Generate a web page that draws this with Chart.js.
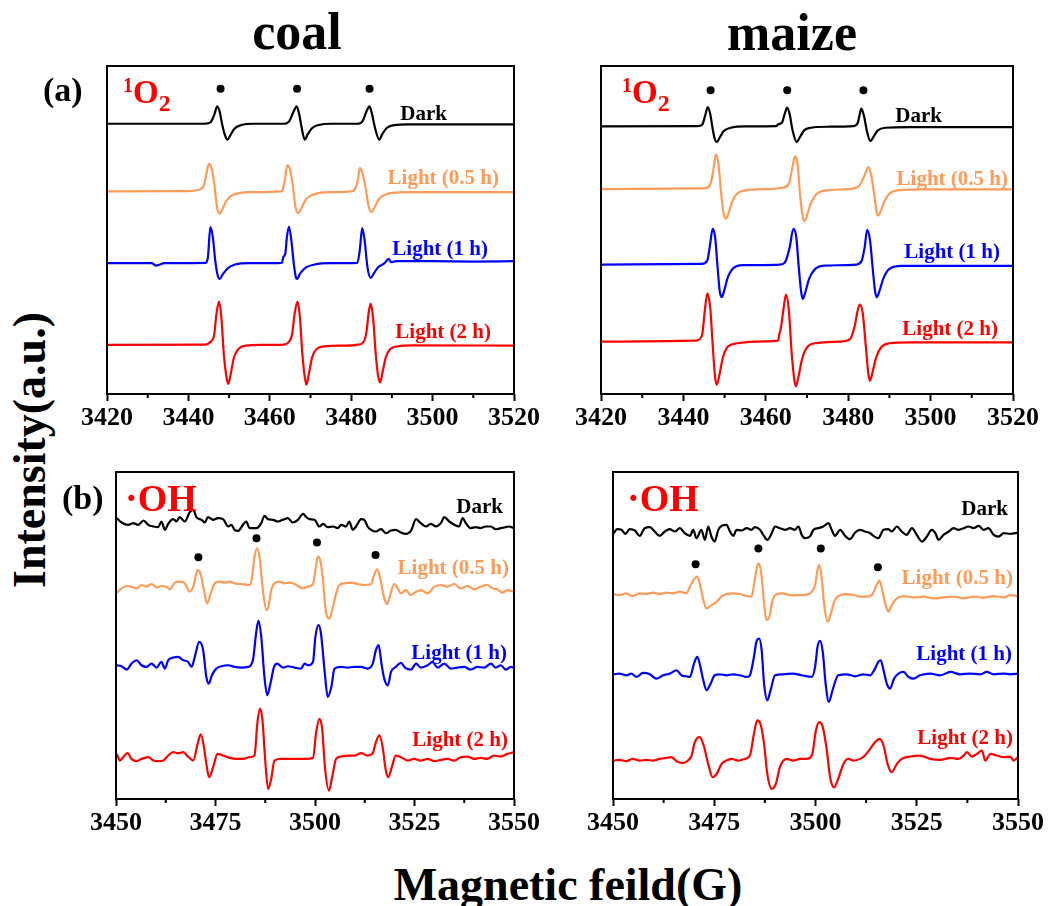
<!DOCTYPE html>
<html>
<head>
<meta charset="utf-8">
<script src="https://cdn.jsdelivr.net/npm/chart.js@4.4.1/dist/chart.umd.min.js"></script>
<style>
  html, body { margin: 0; padding: 0; background: #fff; }
  #page { position: relative; width: 1048px; height: 906px; overflow: hidden;
          font-family: 'Liberation Serif', 'Times New Roman', serif; font-weight: bold; }
  #page canvas { position: absolute; }
  .t { position: absolute; line-height: 1; white-space: nowrap; }
</style>
</head>
<body>
<div id="page"></div>
<script>
// ---- axis ticks ----
const o2Ticks = [3420, 3440, 3460, 3480, 3500, 3520];
const o2Minor = [3430, 3450, 3470, 3490, 3510];
const ohTicks = [3450, 3475, 3500, 3525, 3550];
const ohMinor = [3462.5, 3487.5, 3512.5, 3537.5];

// ---- (a) 1O2, coal : [field G, intensity a.u.] ----
const coalO2Dark = [[3420,810],[3444,810],[3445.4,814],[3446.3,835],[3447.1,862],[3447.7,845],[3448.3,808],[3449,775],[3449.6,762],[3450.3,775],[3451.3,795],[3453,806],[3456,810],
  [3463.5,810],[3464.8,818],[3465.8,845],[3466.6,862],[3467.2,840],[3467.8,800],[3468.6,762],[3469.3,778],[3470.5,798],[3472,806],[3475,810],
  [3481.5,810],[3482.8,818],[3483.8,848],[3484.5,862],[3485.1,840],[3485.8,800],[3486.9,762],[3487.6,778],[3488.8,798],[3490.5,806],[3494,808],[3520,808]];
const coalO2Half = [[3420,607],[3440,608],[3442.5,612],[3443.8,625],[3444.5,665],[3445.0,690],[3445.6,680],[3446.3,635],[3447.0,562],[3447.7,540],[3448.4,555],[3449.3,578],[3450.5,594],[3452.5,602],[3455,605],
  [3463,608],[3463.2,614],[3463.7,640],[3464.3,685],[3464.9,675],[3465.6,630],[3466.3,560],[3467.0,542],[3467.7,556],[3468.6,578],[3469.8,593],[3472,602],[3475,605],
  [3480,607],[3481.0,615],[3481.6,640],[3482.1,677],[3482.7,665],[3483.5,620],[3484.3,562],[3485.0,545],[3485.7,558],[3486.6,580],[3488,596],[3490,603],[3495,605],[3520,605]];
const coalO2One = [[3420,392],[3431,392],[3432,385],[3433,388],[3434,392],[3444.3,393],[3444.8,410],[3445.4,500],[3446,470],[3446.6,400],[3447.2,355],[3447.7,345],[3448.5,360],[3449.8,378],[3451.5,388],[3455,392],
  [3463,393],[3463.3,410],[3463.8,420],[3464.2,470],[3464.7,502],[3465.3,460],[3465.9,390],[3466.4,350],[3466.7,345],[3467.5,362],[3469,380],[3471,388],[3475,392],
  [3481.5,393],[3482.1,430],[3482.7,497],[3483.3,460],[3484,380],[3484.8,348],[3485.6,362],[3486.6,380],[3488.2,392],[3489.2,405],[3489.8,395],[3491,398],[3500,398],[3510,397],[3520,398]];
const coalO2Two = [[3420,147],[3444,148],[3445.6,158],[3446.3,175],[3446.9,240],[3447.5,277],[3448.1,230],[3448.7,120],[3449.3,55],[3449.8,30],[3450.4,60],[3451.2,110],[3452.3,135],[3454,145],[3458,147],
  [3463.5,148],[3464.8,158],[3465.5,180],[3466.1,240],[3466.8,277],[3467.4,230],[3468,120],[3468.6,50],[3469.0,28],[3469.6,60],[3470.4,110],[3471.5,135],[3473.5,143],[3478,145],
  [3481.8,148],[3483.2,160],[3483.8,190],[3484.3,245],[3484.8,270],[3485.4,225],[3486,125],[3486.6,55],[3487.1,35],[3487.7,65],[3488.5,110],[3489.6,135],[3491.5,143],[3495,146],[3520,145]];
const coalO2Dots = [[3447.9,915],[3466.7,915],[3484.5,915]];

// ---- (a) 1O2, maize ----
const maizeO2Dark = [[3420,802],[3443.5,803],[3444.6,808],[3445.3,835],[3445.9,860],[3446.5,840],[3447.1,795],[3447.6,765],[3448.1,755],[3448.8,768],[3449.8,788],[3451.5,798],[3455,802],
  [3462.5,803],[3463,808],[3464,815],[3464.6,840],[3465.2,858],[3465.8,838],[3466.5,790],[3467.5,755],[3468.2,768],[3469.3,790],[3471,798],[3475,801],
  [3481.3,803],[3482.3,812],[3482.8,838],[3483.2,855],[3483.8,835],[3484.6,785],[3485.4,758],[3486.1,770],[3487.2,790],[3489,798],[3495,800],[3520,800]];
const maizeO2Half = [[3420,614],[3445,616],[3446.4,625],[3447.2,665],[3447.9,718],[3448.5,690],[3449.1,610],[3449.7,545],[3450.3,525],[3450.9,540],[3451.8,575],[3453,600],[3455,610],
  [3462,615],[3464,618],[3465.6,630],[3466.4,675],[3467.1,712],[3467.7,690],[3468.3,600],[3468.9,535],[3469.4,518],[3470,535],[3470.9,570],[3472.2,598],[3474.5,610],
  [3480,614],[3482.5,622],[3483.8,650],[3484.9,680],[3485.6,655],[3486.4,590],[3486.9,545],[3487.3,535],[3487.9,548],[3488.8,578],[3490,600],[3492,610],[3500,613],[3520,613]];
const maizeO2One = [[3420,388],[3444.5,390],[3445.8,400],[3446.5,450],[3447.1,495],[3447.7,470],[3448.3,380],[3448.8,310],[3449.3,290],[3449.9,310],[3450.8,350],[3452.2,378],[3454.5,386],
  [3463.5,388],[3464.8,398],[3465.8,440],[3466.7,495],[3467.4,470],[3468.0,380],[3468.6,305],[3469.0,285],[3469.6,305],[3470.5,345],[3472,375],[3474.5,385],
  [3482,388],[3483.3,400],[3484,440],[3484.6,492],[3485.3,460],[3486,370],[3486.5,310],[3486.9,290],[3487.5,305],[3488.5,345],[3490,375],[3493,384],[3520,384]];
const maizeO2Two = [[3420,157],[3443,160],[3444.5,175],[3445.2,250],[3445.8,302],[3446.5,260],[3447.2,130],[3447.7,50],[3448.1,28],[3448.7,55],[3449.6,110],[3450.8,142],[3453,152],
  [3460,158],[3463,160],[3463.3,180],[3463.7,200],[3464.3,255],[3464.9,298],[3465.6,250],[3466.3,120],[3466.9,45],[3467.3,23],[3467.9,50],[3468.8,105],[3470,140],[3472,152],
  [3478,157],[3480.5,165],[3481.6,205],[3482.3,250],[3482.8,268],[3483.5,245],[3484.3,140],[3484.9,60],[3485.3,40],[3485.9,65],[3486.8,110],[3488,140],[3490,152],[3495,155],[3520,155]];
const maizeO2Dots = [[3446.6,910],[3465.2,910],[3483.7,910]];

// ---- (b) ·OH, coal ----
const coalOHDark = [[3450.2,840],[3451.4,827],[3453.1,820],[3454.3,825],[3455.6,820],[3456.9,833],[3458.1,820],[3459.4,815],[3460.6,813],[3461.4,830],[3462.3,805],[3463.1,823],[3464.4,837],[3465.2,830],[3466.0,843],[3467.3,830],[3468.5,857],[3469.4,865],[3470.2,843],[3471.5,835],[3472.3,827],[3473.1,843],[3474.4,835],[3475.6,840],[3476.9,837],[3478.2,815],[3479.0,820],[3479.8,805],[3480.7,802],[3481.9,820],[3482.7,830],[3483.6,810],[3485.3,810],[3486.5,825],[3487.3,847],[3488.2,837],[3489.4,835],[3490.7,830],[3491.9,835],[3493.2,840],[3494.4,827],[3495.7,835],[3497.0,853],[3497.8,843],[3498.6,837],[3499.9,835],[3501.1,815],[3502.0,823],[3503.2,813],[3504.5,815],[3505.7,810],[3506.6,820],[3507.8,815],[3508.6,830],[3509.5,805],[3510.3,815],[3511.6,837],[3512.4,835],[3513.2,815],[3514.1,805],[3515.3,800],[3516.6,807],[3517.8,795],[3519.1,803],[3520.3,805],[3521.6,797],[3522.8,793],[3524.1,802],[3525.4,837],[3526.6,825],[3527.9,815],[3529.1,823],[3530.4,815],[3531.6,825],[3532.5,843],[3533.7,830],[3535.0,820],[3536.2,815],[3537.1,840],[3537.9,825],[3539.1,810],[3540.4,813],[3541.6,810],[3542.9,815],[3544.2,815],[3545.4,807],[3546.7,810],[3547.9,813],[3548.7,815],[3550.0,810]];
const coalOHHalf = [[3450.2,617],[3451.4,630],[3452.7,637],[3453.9,635],[3455.2,630],[3456.4,640],[3457.7,635],[3458.9,643],[3460.2,633],[3461.4,637],[3462.7,635],[3463.5,627],[3464.8,647],[3466.0,650],[3467.3,645],[3468.5,620],[3469.4,635],[3470.5,685],[3471.3,670],[3472.1,625],[3472.9,585],[3473.8,615],[3474.8,645],[3476.1,650],[3477.3,647],[3478.6,650],[3479.8,645],[3481.5,643],[3483.6,640],[3484.2,665],[3484.8,725],[3485.5,750],[3486.1,720],[3486.9,625],[3487.8,565],[3488.3,575],[3489.0,625],[3489.8,645],[3491.1,650],[3492.3,645],[3493.6,647],[3494.9,643],[3497.0,630],[3498.2,635],[3499.5,643],[3500.1,685],[3500.7,725],[3501.4,710],[3502.0,655],[3502.8,555],[3503.6,540],[3504.5,575],[3505.3,615],[3506.1,640],[3507.4,645],[3509.1,647],[3510.7,643],[3512.4,640],[3514.1,643],[3514.7,665],[3515.6,687],[3516.4,660],[3517.3,605],[3518.1,583],[3518.9,610],[3519.9,643],[3520.8,630],[3521.6,615],[3522.8,625],[3524.1,610],[3525.4,620],[3526.6,625],[3528.3,615],[3530.0,635],[3531.6,640],[3533.3,635],[3535.0,643],[3536.6,630],[3538.3,637],[3540.0,627],[3541.6,635],[3543.3,640],[3544.6,630],[3545.8,627],[3547.1,617],[3548.3,625],[3550.0,620]];
const coalOHOne = [[3450.2,400],[3451.4,397],[3452.7,387],[3453.9,405],[3455.2,415],[3456.4,400],[3457.7,395],[3458.9,405],[3460.2,393],[3461.4,410],[3462.3,390],[3463.1,415],[3464.4,423],[3465.6,425],[3466.9,415],[3468.1,410],[3469.0,395],[3469.8,425],[3470.9,470],[3471.9,445],[3472.7,365],[3473.3,345],[3474.1,370],[3475.2,390],[3476.5,397],[3478.2,400],[3479.8,395],[3481.5,393],[3483.2,395],[3484.4,415],[3485.3,505],[3485.8,533],[3486.5,485],[3487.3,365],[3488.0,310],[3488.8,345],[3489.7,395],[3490.5,405],[3491.9,393],[3493.2,397],[3494.9,393],[3496.5,390],[3497.4,405],[3498.2,400],[3499.5,410],[3500.1,485],[3500.9,520],[3501.5,495],[3502.4,385],[3503.2,305],[3504.1,335],[3504.9,390],[3506.6,395],[3508.2,393],[3509.9,395],[3511.6,395],[3513.2,390],[3514.5,405],[3515.3,445],[3516.0,460],[3516.7,405],[3517.4,360],[3518.3,340],[3519.1,380],[3520.3,395],[3521.6,407],[3522.6,393],[3524.1,387],[3525.4,405],[3526.6,393],[3528.3,400],[3529.5,410],[3530.8,393],[3532.5,405],[3534.1,390],[3535.8,393],[3537.5,395],[3539.1,387],[3540.8,395],[3542.5,393],[3544.2,405],[3545.4,393],[3546.7,400],[3547.9,387],[3549.2,395],[3550.0,393]];
const coalOHTwo = [[3450.2,135],[3451.0,115],[3451.8,125],[3452.9,137],[3453.9,120],[3455.2,113],[3456.4,120],[3458.1,125],[3459.4,115],[3460.6,113],[3461.9,115],[3463.1,130],[3464.4,140],[3465.6,137],[3466.9,140],[3468.1,127],[3469.4,115],[3470.5,165],[3471.3,193],[3472.1,155],[3472.7,105],[3473.4,65],[3474.4,95],[3475.5,135],[3476.9,130],[3478.6,123],[3480.2,120],[3481.9,120],[3483.6,125],[3484.8,130],[3485.5,225],[3486.2,270],[3486.8,235],[3487.5,115],[3488.2,30],[3489.0,60],[3489.8,115],[3491.5,120],[3493.6,120],[3495.7,120],[3497.8,120],[3499.5,123],[3500.3,200],[3501.1,240],[3501.8,210],[3502.5,95],[3503.5,25],[3504.3,65],[3505.3,120],[3506.6,127],[3508.2,130],[3509.9,130],[3511.6,137],[3513.2,130],[3514.5,137],[3515.3,170],[3516.2,190],[3517.0,155],[3517.8,85],[3518.4,65],[3519.3,95],[3520.3,130],[3521.6,125],[3523.3,115],[3524.9,120],[3526.6,115],[3528.3,120],[3530.0,113],[3531.6,117],[3533.3,120],[3535.0,115],[3536.6,125],[3538.3,127],[3540.0,120],[3541.6,123],[3543.3,120],[3545.0,130],[3546.7,127],[3548.3,135],[3550.0,140]];
const coalOHDots = [[3470.7,723],[3485.3,780],[3500.5,767],[3515.2,730]];

// ---- (b) ·OH, maize ----
const maizeOHDark = [[3450.2,795],[3451.0,807],[3452.1,805],[3453.1,793],[3454.1,807],[3455.4,803],[3456.6,787],[3457.8,810],[3459.1,813],[3460.3,800],[3461.5,787],[3462.8,800],[3464.0,807],[3465.3,800],[3466.5,810],[3467.7,795],[3469.0,787],[3469.8,805],[3470.6,780],[3471.8,805],[3472.7,775],[3473.5,815],[3474.3,785],[3475.1,770],[3476.0,805],[3476.8,817],[3478.0,820],[3478.9,800],[3479.7,787],[3480.5,805],[3481.7,803],[3483.0,810],[3484.2,805],[3485.0,813],[3486.3,805],[3487.1,790],[3488.1,775],[3489.2,795],[3490.0,815],[3491.2,810],[3492.5,805],[3493.7,810],[3494.9,805],[3495.8,815],[3496.6,790],[3497.4,780],[3498.6,785],[3499.5,805],[3500.7,810],[3501.9,815],[3503.2,825],[3504.0,805],[3504.8,787],[3506.1,805],[3507.3,787],[3508.5,777],[3509.8,797],[3511.0,805],[3512.2,800],[3513.5,795],[3514.3,787],[3515.5,780],[3516.8,805],[3518.0,807],[3518.8,800],[3520.1,815],[3521.3,800],[3522.5,790],[3523.8,810],[3525.0,790],[3526.3,770],[3527.5,785],[3528.7,805],[3529.6,795],[3530.4,775],[3531.6,790],[3532.9,800],[3534.1,810],[3535.3,805],[3536.6,810],[3537.8,815],[3539.0,810],[3540.3,817],[3541.5,805],[3542.7,810],[3544.0,790],[3545.2,785],[3546.5,795],[3548.1,793],[3550.0,797]];
const maizeOHHalf = [[3450.2,613],[3451.6,610],[3453.3,615],[3454.9,607],[3456.6,615],[3458.2,613],[3459.9,617],[3461.5,613],[3463.2,617],[3464.8,615],[3466.5,620],[3468.1,615],[3469.0,635],[3470.0,657],[3470.8,665],[3471.6,635],[3472.3,595],[3473.1,570],[3474.3,580],[3475.6,590],[3476.8,605],[3478.0,613],[3479.7,615],[3481.3,613],[3483.0,607],[3484.2,605],[3485.0,655],[3485.6,695],[3486.1,705],[3486.7,665],[3487.3,585],[3487.9,535],[3488.6,545],[3489.4,595],[3490.4,613],[3492.0,615],[3493.7,610],[3495.3,610],[3497.0,610],[3498.6,615],[3499.9,640],[3500.5,685],[3500.9,700],[3501.5,665],[3502.1,585],[3503.0,530],[3503.8,555],[3504.8,595],[3506.1,610],[3507.7,613],[3509.4,610],[3511.0,605],[3512.7,605],[3513.9,610],[3515.1,640],[3515.8,653],[3516.4,630],[3517.2,585],[3518.0,560],[3518.8,580],[3520.1,600],[3521.7,607],[3524.2,603],[3526.7,605],[3529.1,600],[3531.6,603],[3534.1,605],[3536.6,600],[3539.0,605],[3541.5,602],[3544.0,607],[3546.5,603],[3548.1,610],[3550.0,607]];
const maizeOHOne = [[3450.2,373],[3451.6,375],[3453.3,370],[3454.5,375],[3455.8,365],[3457.4,377],[3459.1,373],[3460.7,360],[3462.4,370],[3464.0,375],[3465.7,385],[3466.9,370],[3468.1,367],[3469.0,365],[3470.0,405],[3470.8,425],[3471.4,405],[3472.3,355],[3473.1,325],[3474.1,345],[3475.1,370],[3476.4,373],[3478.0,370],[3479.7,373],[3481.3,370],[3483.0,365],[3483.8,370],[3484.8,425],[3485.4,470],[3486.1,480],[3486.7,445],[3487.3,345],[3488.1,295],[3488.9,325],[3490.0,370],[3492.0,373],[3494.5,375],[3496.6,370],[3499.1,365],[3499.9,395],[3500.5,455],[3501.1,473],[3501.8,440],[3502.5,345],[3503.3,290],[3504.2,325],[3505.6,370],[3507.7,373],[3509.8,367],[3511.8,373],[3513.5,370],[3514.7,390],[3515.5,410],[3516.1,415],[3516.8,385],[3517.6,345],[3518.4,330],[3519.4,360],[3520.5,375],[3521.7,380],[3523.0,365],[3524.2,360],[3525.8,370],[3528.3,375],[3530.8,370],[3533.3,380],[3535.7,373],[3538.2,375],[3540.7,373],[3542.3,380],[3544.0,373],[3546.5,375],[3548.1,373],[3550.0,375]];
const maizeOHTwo = [[3450.2,115],[3451.6,117],[3453.3,113],[3454.9,120],[3456.6,115],[3458.2,117],[3459.9,115],[3461.5,120],[3463.2,123],[3464.4,125],[3465.7,113],[3467.3,107],[3468.5,115],[3469.4,130],[3470.2,170],[3471.4,185],[3472.4,160],[3473.5,105],[3474.6,65],[3475.6,75],[3476.8,105],[3478.0,115],[3479.3,120],[3480.9,115],[3482.6,120],[3483.8,130],[3484.8,195],[3485.6,235],[3486.4,225],[3487.3,165],[3488.1,75],[3489.2,30],[3490.2,45],[3491.2,95],[3492.9,120],[3494.5,115],[3496.2,120],[3497.8,120],[3499.1,130],[3500.1,205],[3500.9,230],[3501.8,215],[3502.8,145],[3503.6,65],[3504.6,35],[3505.6,60],[3506.9,105],[3508.1,120],[3509.4,115],[3511.0,120],[3512.2,130],[3513.5,150],[3514.7,170],[3515.8,180],[3516.8,160],[3517.8,105],[3518.8,80],[3520.1,105],[3521.3,120],[3523.4,127],[3525.8,130],[3528.3,120],[3530.8,117],[3533.3,123],[3535.3,120],[3536.6,130],[3537.4,140],[3538.6,127],[3539.9,135],[3541.1,145],[3541.9,115],[3543.2,135],[3544.8,130],[3546.5,125],[3548.1,127],[3548.9,115],[3550.0,125]];
const maizeOHDots = [[3470.4,702],[3485.9,749],[3501.3,749],[3515.4,693]];

const traceLabels = ['Dark', 'Light (0.5 h)', 'Light (1 h)', 'Light (2 h)'];

// ---- styles ----
const BLACK = '#000000', ORANGE = '#ff9a57', BLUE = '#0000ff', RED = '#ff0000';
const COLORS = [BLACK, ORANGE, BLUE, RED];
const FONT = "'Liberation Serif', 'Times New Roman', serif";
const page = document.getElementById('page');

// box outline + short minor ticks
const framePlugin = minors => ({
  id: 'frame',
  afterDraw(chart) {
    const { ctx, chartArea: a, scales: { x } } = chart;
    ctx.save();
    ctx.strokeStyle = '#000';
    ctx.lineWidth = 2;
    ctx.strokeRect(a.left, a.top, a.right - a.left, a.bottom - a.top);
    ctx.beginPath();
    minors.forEach(v => {
      const px = x.getPixelForValue(v);
      ctx.moveTo(px, a.bottom);
      ctx.lineTo(px, a.bottom + 4);
    });
    ctx.stroke();
    ctx.restore();
  }
});

function makePanel(box, xMin, xMax, majors, minors, yMax, traces, dots) {
  const pad = 40;
  const canvas = document.createElement('canvas');
  canvas.width = box.r - box.l + 2 * pad;
  canvas.height = box.b - box.t + 60;
  canvas.style.left = (box.l - pad) + 'px';
  canvas.style.top = (box.t - 10) + 'px';
  page.appendChild(canvas);

  const datasets = traces.map((pts, i) => ({
    data: pts.map(p => ({ x: p[0], y: p[1] })),
    borderColor: COLORS[i],
    borderWidth: 2.2,
    pointRadius: 0,
    fill: false,
    cubicInterpolationMode: 'monotone',
  }));
  datasets.push({
    type: 'scatter',
    data: dots.map(p => ({ x: p[0], y: p[1] })),
    pointRadius: 4,
    backgroundColor: '#000',
    borderWidth: 0,
  });

  new Chart(canvas, {
    type: 'line',
    data: { datasets },
    options: {
      responsive: false,
      animation: false,
      events: [],
      layout: { padding: { left: pad, right: pad, top: 10, bottom: 10 } },
      plugins: { legend: { display: false }, tooltip: { enabled: false } },
      scales: {
        x: {
          type: 'linear', min: xMin, max: xMax,
          afterBuildTicks: s => { s.ticks = majors.map(v => ({ value: v })); },
          afterFit: s => { s.height = 40; },
          border: { display: false },
          grid: { display: true, drawOnChartArea: false, drawTicks: true, tickLength: 7, tickWidth: 2, tickColor: '#000' },
          ticks: { color: '#000', padding: 2, maxRotation: 0, autoSkip: false,
                   font: { family: FONT, weight: 'bold', size: 26 },
                   callback: v => String(v) },
        },
        y: { display: false, min: 0, max: yMax },
      },
    },
    plugins: [framePlugin(minors)],
  });
}

function text(html, x, y, size, color, align) {
  const d = document.createElement('div');
  d.className = 't';
  d.innerHTML = html;
  d.style.left = x + 'px';
  d.style.top = y + 'px';
  d.style.fontSize = size + 'px';
  d.style.color = color;
  const tx = align === 'r' ? '-100%' : align === 'c' ? '-50%' : '0';
  d.style.transform = `translate(${tx}, -50%)`;
  page.appendChild(d);
  return d;
}

makePanel({ l: 107, r: 514, t: 66, b: 394 }, 3420, 3520, o2Ticks, o2Minor, 983,
  [coalO2Dark, coalO2Half, coalO2One, coalO2Two], coalO2Dots);
makePanel({ l: 601, r: 1013, t: 66, b: 394 }, 3420, 3520, o2Ticks, o2Minor, 983,
  [maizeO2Dark, maizeO2Half, maizeO2One, maizeO2Two], maizeO2Dots);
makePanel({ l: 116, r: 514, t: 472, b: 799 }, 3450, 3550, ohTicks, ohMinor, 978,
  [coalOHDark, coalOHHalf, coalOHOne, coalOHTwo], coalOHDots);
makePanel({ l: 613, r: 1018, t: 472, b: 799 }, 3450, 3550, ohTicks, ohMinor, 978,
  [maizeOHDark, maizeOHHalf, maizeOHOne, maizeOHTwo], maizeOHDots);

// titles and axis names
text('coal', 297, 32, 52, '#000', 'c');
text('maize', 792, 33, 52, '#000', 'c');
text('(a)', 43, 90, 34, '#000', 'l');
text('(b)', 62, 498, 34, '#000', 'l');
text('Magnetic feild(G)', 568, 885, 46, '#000', 'c');
const yName = text('Intensity(a.u.)', 30, 450, 46, '#000', 'c');
yName.style.transform = 'translate(-50%, -50%) rotate(-90deg)';

// species tags
const o2Tag = '<span style="font-size:20px;position:relative;top:-11px">1</span>O<span style="font-size:24px;position:relative;top:8px">2</span>';
text(o2Tag, 123, 92, 33, RED, 'l');
text(o2Tag, 622, 92, 33, RED, 'l');
text('·OH', 125, 498, 38, RED, 'l');
text('·OH', 627, 498, 38, RED, 'l');

// trace labels: [right edge, centre y] per panel
const labelSpots = [
  [[447, 113], [499, 177], [488, 248], [491, 331]],
  [[942, 115], [1008, 178], [1000, 251], [998, 328]],
  [[503, 506], [509, 567], [507, 652], [508, 739]],
  [[1008, 508], [1013, 577], [1012, 653], [1013, 737]],
];
labelSpots.forEach(panel => panel.forEach((p, i) => {
  text(traceLabels[i], p[0], p[1], 21, COLORS[i], 'r');
}));
</script>
</body>
</html>
